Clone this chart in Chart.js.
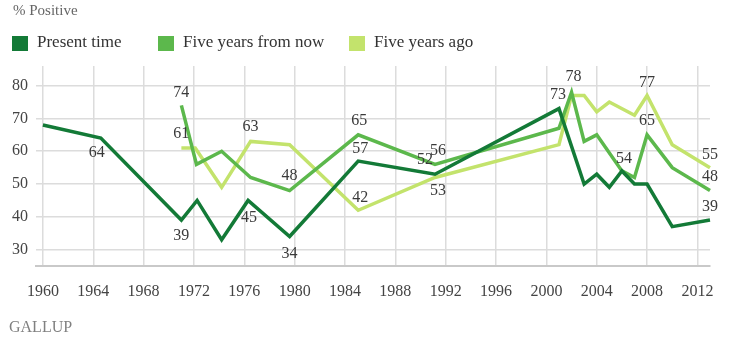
<!DOCTYPE html>
<html><head><meta charset="utf-8">
<script src="https://cdn.jsdelivr.net/npm/chart.js@4/dist/chart.umd.min.js"></script>
<style>html,body{margin:0;padding:0;background:#fff;}#wrap{position:relative;width:736px;height:343px;}</style>
</head><body><div id="wrap"><canvas id="c" width="736" height="343"></canvas></div>
<script>
// ---- data ----
const seriesNames = ["Present time", "Five years from now", "Five years ago"];

const presentYears  = [1960, 1964.6, 1971, 1972.25, 1974.2, 1976.3, 1979.6, 1985.05, 1991.15, 2001, 2003, 2004, 2005, 2006, 2007, 2008, 2010, 2013];
const presentValues = [68,   64,     39,   45,      33,     45,     34,     57,      53,      73,   50,   53,   49,   54,   50,   50,   37,   39];

const futureYears  = [1971, 1972.2, 1974.2, 1976.5, 1979.6, 1985.05, 1991.15, 2001, 2002, 2003, 2004, 2006, 2007, 2008, 2010, 2013];
const futureValues = [74,   56,     60,     52,     48,     65,      56,      67,   78,   63,   65,   54,   52,   65,   55,   48];

const pastYears  = [1971, 1972.1, 1974.2, 1976.5, 1979.6, 1985.05, 1991.15, 2001, 2002, 2003, 2004, 2005, 2007, 2008, 2010, 2013];
const pastValues = [61,   61,     49,     63,     62,     42,      52,      62,   77,   77,   72,   75,   71,   77,   62,   55];

const xTickLabels = [1960, 1964, 1968, 1972, 1976, 1980, 1984, 1988, 1992, 1996, 2000, 2004, 2008, 2012];
const yTickLabels = [30, 40, 50, 60, 70, 80];

// ---- styling ----
const colors = ["#137a37", "#5cb84c", "#c3e36c"];
const serif = "'Liberation Serif', 'DejaVu Serif', serif";

// which points carry value labels: [series, pointIndex, dx, dy]
const labelSpots = [
  [0, 1, -4, 15], [0, 2, 0, 16], [0, 5, 1, 17], [0, 6, 0, 17], [0, 7, 2, -12],
  [0, 8, 3, 17], [0, 9, -1, -14], [0, 13, 2, -12], [0, 17, 0, -13],
  [1, 0, 0, -13], [1, 4, 0, -15], [1, 5, 1, -14], [1, 6, 3, -14], [1, 8, 2, -15],
  [1, 13, 0, -14], [1, 15, 0, -14],
  [2, 0, 0, -14], [2, 3, 0, -15], [2, 5, 2, -12], [2, 6, -10, -18], [2, 13, 0, -13], [2, 15, 0, -13]
];

function pts(xs, ys) { return xs.map((x, i) => ({ x: x, y: ys[i] })); }

const valueLabels = {
  id: 'valueLabels',
  afterDatasetsDraw(chart) {
    const ctx = chart.ctx;
    ctx.save();
    ctx.font = "16px " + serif;
    ctx.fillStyle = "#3a3a3a";
    ctx.textAlign = "center";
    ctx.textBaseline = "middle";
    labelSpots.forEach(([s, i, dx, dy]) => {
      const el = chart.getDatasetMeta(s).data[i];
      const v = chart.data.datasets[s].data[i].y;
      ctx.fillText(String(v), el.x + dx, el.y + dy);
    });
    ctx.restore();
  }
};

const header = {
  id: 'header',
  afterDraw(chart) {
    const ctx = chart.ctx;
    ctx.save();
    ctx.textBaseline = "middle";
    ctx.textAlign = "left";
    ctx.font = "15px " + serif;
    ctx.fillStyle = "#666";
    ctx.fillText("% Positive", 13, 11);
    const boxX = [12, 158, 349];
    ctx.font = "17px " + serif;
    seriesNames.forEach((n, k) => {
      ctx.fillStyle = colors[k];
      ctx.fillRect(boxX[k], 36, 16, 15);
      ctx.fillStyle = "#333";
      ctx.fillText(n, boxX[k] + 25, 43);
    });
    ctx.font = "16px " + serif;
    ctx.fillStyle = "#808080";
    ctx.fillText("GALLUP", 9, 328);
    ctx.restore();
  }
};

new Chart(document.getElementById('c'), {
  type: 'line',
  data: {
    datasets: [
      { label: seriesNames[0], data: pts(presentYears, presentValues), borderColor: colors[0], backgroundColor: colors[0] },
      { label: seriesNames[1], data: pts(futureYears, futureValues), borderColor: colors[1], backgroundColor: colors[1] },
      { label: seriesNames[2], data: pts(pastYears, pastValues), borderColor: colors[2], backgroundColor: colors[2] }
    ].map(d => Object.assign(d, { borderWidth: 3.5, pointRadius: 0, tension: 0, fill: false, clip: false, borderJoinStyle: 'miter' }))
  },
  options: {
    responsive: false,
    animation: false,
    devicePixelRatio: 1,
    layout: { padding: { top: 66, right: 26, left: 0, bottom: 0 } },
    plugins: { legend: { display: false }, tooltip: { enabled: false } },
    scales: {
      x: {
        type: 'linear', min: 1959.45, max: 2013,
        afterBuildTicks: s => { s.ticks = xTickLabels.map(v => ({ value: v })); },
        afterFit: s => { s.height = 77; },
        grid: { color: '#dcdcdc', lineWidth: 1.5, drawTicks: false },
        border: { color: '#c9c9c9', width: 2 },
        ticks: { padding: 16, color: '#444', font: { family: serif, size: 16 }, callback: v => String(v), maxRotation: 0, autoSkip: false }
      },
      y: {
        min: 25, max: 86,
        afterBuildTicks: s => { s.ticks = yTickLabels.map(v => ({ value: v })); },
        afterFit: s => { s.width = 36; },
        grid: { color: '#dcdcdc', lineWidth: 1.5, drawTicks: false },
        border: { display: false },
        ticks: { padding: 8, color: '#444', font: { family: serif, size: 16 }, callback: v => String(v) }
      }
    }
  },
  plugins: [valueLabels, header]
});
</script></body></html>
